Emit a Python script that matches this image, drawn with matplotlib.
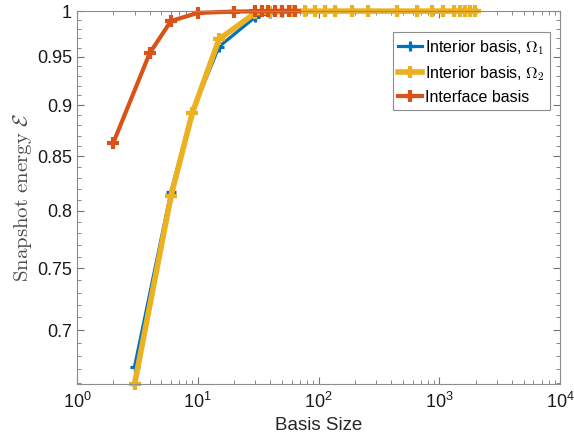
import numpy as np
import matplotlib
matplotlib.use('Agg')
from matplotlib import pyplot as plt
from matplotlib.font_manager import FontProperties
from matplotlib.ticker import FixedLocator, NullFormatter

plt.rcParams['font.family'] = ['Liberation Sans', 'DejaVu Sans']
plt.rcParams['mathtext.fontset'] = 'custom'
plt.rcParams['mathtext.rm'] = 'Liberation Sans'
plt.rcParams['mathtext.it'] = 'Liberation Sans:italic'

# basis sizes / snapshot energy
n_int1 = [3, 6, 9, 15, 30, 40, 50, 62, 77, 93, 113, 137, 188, 258, 444, 650, 866, 1081, 1309, 1486, 1635, 1798, 1977]
e_int1 = [0.672, 0.817, 0.893, 0.961, 0.9935, 0.998, 0.9992, 0.9996, 0.9998, 0.9999, 0.9999, 0.9999,
          0.9999, 1.0, 1.0, 1.0, 1.0, 1.0, 1.0, 1.0, 1.0, 1.0, 1.0]
n_int2 = [3, 6, 9, 15, 30, 40, 50, 62, 77, 93, 113, 137, 188, 258, 444, 650, 866, 1081, 1309, 1486, 1635, 1798, 1977]
e_int2 = [0.659, 0.813, 0.892, 0.969, 0.998, 0.9992, 0.9996, 0.9998, 0.9999, 0.9999, 0.9999, 1.0,
          1.0, 1.0, 1.0, 1.0, 1.0, 1.0, 1.0, 1.0, 1.0, 1.0, 1.0]
n_ifc = [2, 4, 6, 10, 20, 30, 34, 38, 44, 50, 57, 64]
e_ifc = [0.863, 0.954, 0.989, 0.998, 0.9995, 0.9998, 0.9999, 0.9999, 0.9999, 1.0, 1.0, 1.0]

labels = [r'Interior basis, $\Omega_1$', r'Interior basis, $\Omega_2$', 'Interface basis']
colors = ['#0072BD', '#EDB120', '#D95319']

fig = plt.figure(figsize=(5.74, 4.45), dpi=100)
ax = fig.add_axes([0.134, 0.137, 0.842, 0.838])

ax.plot(n_int1, e_int1, color=colors[0], lw=2.3, marker='+', ms=7, mew=2.3, label=labels[0], clip_on=False)
ax.plot(n_int2, e_int2, color=colors[1], lw=4, marker='+', ms=8, mew=3, label=labels[1], clip_on=False)
ax.plot(n_ifc, e_ifc, color=colors[2], lw=3, marker='+', ms=8, mew=3, label=labels[2], clip_on=False)

ax.set_xscale('log')
ax.set_yscale('log')
ax.set_xlim(1, 1e4)
ax.set_ylim(0.659, 1.0)

yt = [0.7, 0.75, 0.8, 0.85, 0.9, 0.95, 1.0]
ax.yaxis.set_major_locator(FixedLocator(yt))
ax.set_yticklabels(['0.7', '0.75', '0.8', '0.85', '0.9', '0.95', '1'])
ax.yaxis.set_minor_locator(FixedLocator(np.arange(0.66, 1.0, 0.01)))
ax.yaxis.set_minor_formatter(NullFormatter())

ax.tick_params(which='both', direction='in', top=True, right=True, colors='0.45',
               labelcolor='0.1', labelsize=13)
ax.tick_params(which='major', length=5, width=0.8)
ax.tick_params(which='minor', length=3, width=0.6)
ax.tick_params(axis='x', which='major', pad=6)
for s in ax.spines.values():
    s.set_color('0.55')
    s.set_linewidth(0.8)

ax.set_xlabel('Basis Size', fontsize=13.5, color='0.15', labelpad=3)
ax.set_ylabel(r'$\mathrm{Snapshot\ energy}\ \mathcal{E}$', fontsize=15, color='0.3',
              math_fontfamily='cm', labelpad=2)

leg = ax.legend(loc='upper right', bbox_to_anchor=(0.979, 0.943), borderaxespad=0,
                prop=FontProperties(family='Liberation Sans', size=11.5, math_fontfamily='cm'),
                handlelength=1.45, handletextpad=0.2, labelspacing=0.45, borderpad=0.35,
                fancybox=False, framealpha=1, edgecolor='0.55', numpoints=1)
leg.get_frame().set_linewidth(0.8)

fig.savefig('out.png', dpi=100)
